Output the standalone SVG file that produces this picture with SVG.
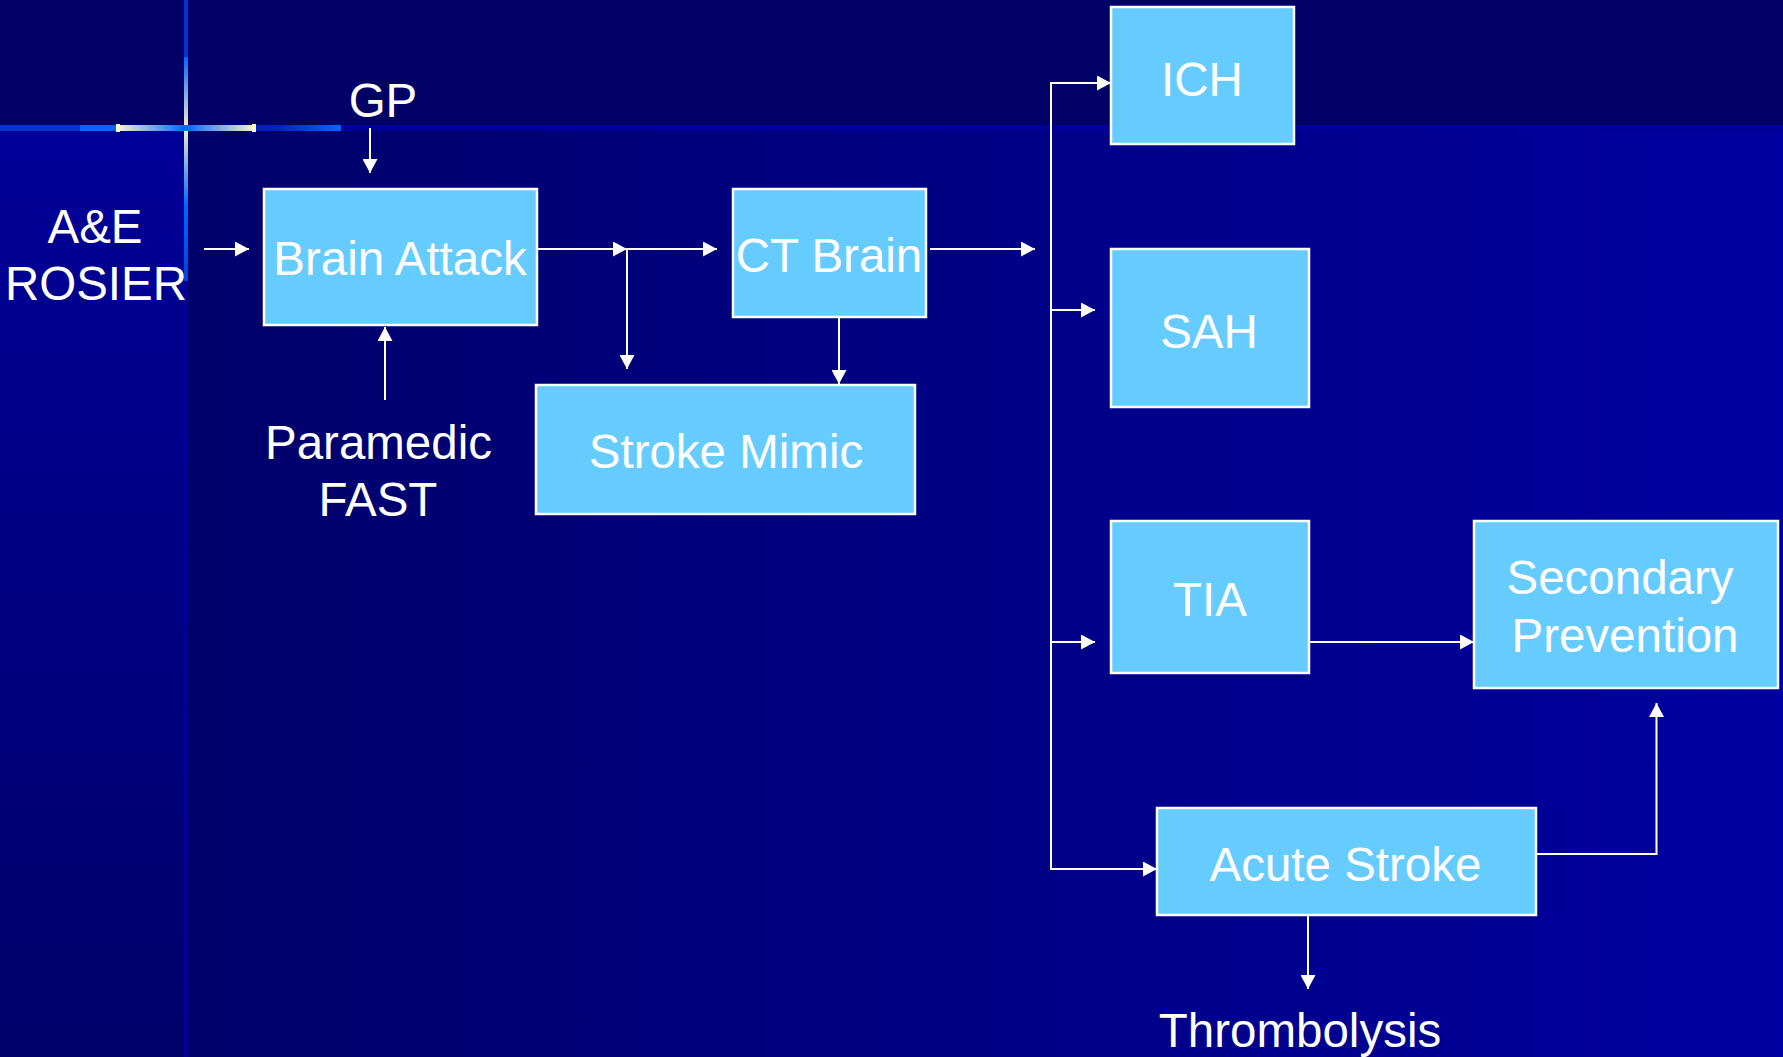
<svg xmlns="http://www.w3.org/2000/svg" width="1783" height="1057" viewBox="0 0 1783 1057">
<defs>
<style>
.box{fill:#66CCFF;stroke:#FFFFFF;stroke-width:2.5}
.t{font-family:"Liberation Sans",Arial,sans-serif;font-size:47.5px;fill:#FFFFFF;text-anchor:middle}
.c{fill:none;stroke:#FFFFFF;stroke-width:2;marker-end:url(#ah)}
.cn{fill:none;stroke:#FFFFFF;stroke-width:2}
</style>
<marker id="ah" markerUnits="userSpaceOnUse" markerWidth="15" markerHeight="15" refX="14" refY="7.5" orient="auto" viewBox="0 0 15 15">
<path d="M0,0 L14,7.5 L0,15 Z" fill="#FFFFFF"/>
</marker>
<linearGradient id="main" x1="0" y1="0" x2="1" y2="0">
<stop offset="0" stop-color="#000064"/>
<stop offset="1" stop-color="#0000A0"/>
</linearGradient>
<linearGradient id="left" x1="0" y1="0" x2="0" y2="1">
<stop offset="0" stop-color="#000099"/>
<stop offset="1" stop-color="#00006A"/>
</linearGradient>
<linearGradient id="hl1" x1="0" y1="0" x2="1" y2="0">
<stop offset="0" stop-color="#F0F0C8"/>
<stop offset="1" stop-color="#0066FF"/>
</linearGradient>
<linearGradient id="hl2" x1="0" y1="0" x2="1" y2="0">
<stop offset="0" stop-color="#0066FF"/>
<stop offset="1" stop-color="#F0F0C8"/>
</linearGradient>
<linearGradient id="hl3" x1="0" y1="0" x2="1" y2="0">
<stop offset="0" stop-color="#0022BB"/>
<stop offset="1" stop-color="#0066FF"/>
</linearGradient>
<linearGradient id="vl1" x1="0" y1="0" x2="0" y2="1">
<stop offset="0" stop-color="#0066FF"/>
<stop offset="1" stop-color="#E8ECC8"/>
</linearGradient>
<linearGradient id="vl2" x1="0" y1="0" x2="0" y2="1">
<stop offset="0" stop-color="#E8ECC8"/>
<stop offset="0.5" stop-color="#0066FF"/>
<stop offset="1" stop-color="#0044DD"/>
</linearGradient>
</defs>

<g id="background">
<rect x="0" y="0" width="1783" height="1057" fill="url(#main)"/>
<rect x="0" y="0" width="1783" height="126" fill="#000066"/>
<rect x="0" y="129" width="185" height="928" fill="url(#left)"/>
<rect x="0" y="125" width="1783" height="6" fill="#000099"/>
<rect x="0" y="125" width="80" height="6" fill="#0033CC"/>
<rect x="80" y="125" width="36" height="6" fill="#0066FF"/>
<rect x="116" y="124" width="4" height="8" fill="#FFFFCC"/>
<rect x="120" y="125" width="65" height="6" fill="url(#hl1)"/>
<rect x="185" y="125" width="67" height="6" fill="url(#hl2)"/>
<rect x="252" y="124" width="4" height="8" fill="#FFFFCC"/>
<rect x="256" y="125" width="21" height="6" fill="#0022BB"/>
<rect x="277" y="125" width="64" height="6" fill="url(#hl3)"/>
<rect x="184" y="0" width="4" height="57" fill="#0033CC"/>
<rect x="184" y="57" width="4" height="68" fill="url(#vl1)"/>
<rect x="184" y="131" width="4" height="150" fill="url(#vl2)"/>
<rect x="184" y="281" width="4" height="776" fill="#00009A"/>
</g>

<g id="connectors">
<line class="c" x1="370" y1="128" x2="370" y2="173"/>
<line class="c" x1="204" y1="249" x2="249" y2="249"/>
<line class="c" x1="385" y1="400" x2="385" y2="327"/>
<line class="c" x1="537" y1="249" x2="627" y2="249"/>
<line class="c" x1="627" y1="249" x2="717" y2="249"/>
<line class="c" x1="627" y1="249" x2="627" y2="369"/>
<line class="c" x1="839" y1="310" x2="839" y2="384"/>
<line class="c" x1="930" y1="249" x2="1035" y2="249"/>
<line class="cn" x1="1051" y1="83" x2="1051" y2="869"/>
<line class="c" x1="1050" y1="83" x2="1111" y2="83"/>
<line class="c" x1="1051" y1="310" x2="1095" y2="310"/>
<line class="c" x1="1051" y1="642" x2="1095" y2="642"/>
<line class="c" x1="1050" y1="869" x2="1157" y2="869"/>
<line class="c" x1="1309" y1="642" x2="1474" y2="642"/>
<polyline class="c" points="1536,854 1656.5,854 1656.5,703"/>
<line class="c" x1="1308" y1="915" x2="1308" y2="989"/>
</g>

<g id="node-brain-attack">
<rect class="box" x="264" y="189" width="273" height="136"/>
<text class="t" x="400" y="275">Brain Attack</text>
</g>
<g id="node-ct-brain">
<rect class="box" x="733" y="189" width="193" height="128"/>
<text class="t" x="829" y="272">CT Brain</text>
</g>
<g id="node-stroke-mimic">
<rect class="box" x="536" y="385" width="379" height="129"/>
<text class="t" x="726" y="468">Stroke Mimic</text>
</g>
<g id="node-ich">
<rect class="box" x="1111" y="7" width="183" height="137"/>
<text class="t" x="1202" y="96">ICH</text>
</g>
<g id="node-sah">
<rect class="box" x="1111" y="249" width="198" height="158"/>
<text class="t" x="1209" y="348">SAH</text>
</g>
<g id="node-tia">
<rect class="box" x="1111" y="521" width="198" height="152"/>
<text class="t" x="1210" y="616">TIA</text>
</g>
<g id="node-secondary-prevention">
<rect class="box" x="1474" y="521" width="304" height="167"/>
<text class="t" x="1620" y="594">Secondary</text>
<text class="t" x="1625" y="652">Prevention</text>
</g>
<g id="node-acute-stroke">
<rect class="box" x="1157" y="808" width="379" height="107"/>
<text class="t" x="1345.5" y="881">Acute Stroke</text>
</g>
<g id="label-gp">
<text class="t" x="383" y="117">GP</text>
</g>
<g id="label-ae-rosier">
<text class="t" x="95" y="243">A&amp;E</text>
<text class="t" x="96" y="300">ROSIER</text>
</g>
<g id="label-paramedic-fast">
<text class="t" x="378.5" y="459">Paramedic</text>
<text class="t" x="378" y="516">FAST</text>
</g>
<g id="label-thrombolysis">
<text class="t" x="1300" y="1047">Thrombolysis</text>
</g>
</svg>
